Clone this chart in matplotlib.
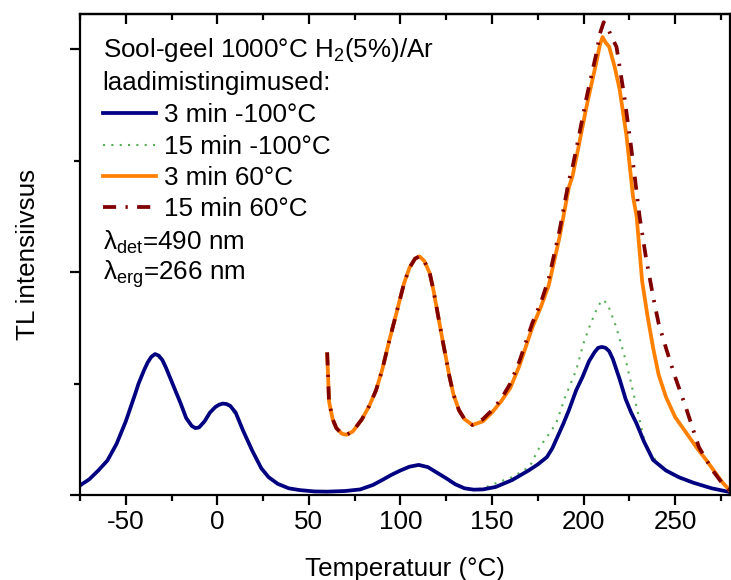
import matplotlib
matplotlib.use("Agg")
import matplotlib.pyplot as plt
from matplotlib.ticker import MultipleLocator

plt.rcParams['font.family'] = ['Liberation Sans', 'DejaVu Sans']
plt.rcParams['mathtext.fontset'] = 'custom'
plt.rcParams['mathtext.rm'] = 'Liberation Sans'
plt.rcParams['mathtext.it'] = 'Liberation Sans:italic'
plt.rcParams['mathtext.bf'] = 'Liberation Sans:bold'
plt.rcParams['axes.unicode_minus'] = False

# ---- data ----
blue_x = [-75, -70, -65, -60, -55, -50, -45, -43, -40, -38, -36, -34, -32, -30, -28, -25, -22, -20, -17, -14, -12, -10, -7, -4, -1,
          1, 3, 5, 7, 10, 14, 19, 24, 28, 33, 39, 45, 53, 60, 70, 78, 85, 90, 95, 100, 105, 110, 115, 120, 125,
          130, 135, 140, 145, 152, 161, 170, 175, 180, 183, 186, 189, 192, 196, 199.5, 203, 206, 208, 210, 212, 214, 216,
          219.7, 223, 226, 229, 233, 238, 245, 252, 260, 270, 280]
blue_y = [0.043, 0.07, 0.11, 0.155, 0.23, 0.33, 0.45, 0.50, 0.56, 0.595, 0.62, 0.632, 0.625, 0.605, 0.57, 0.51, 0.45, 0.41, 0.345, 0.31, 0.30, 0.303, 0.33, 0.37, 0.395,
          0.405, 0.41, 0.408, 0.40, 0.37, 0.29, 0.20, 0.12, 0.08, 0.05, 0.03, 0.022, 0.016, 0.015, 0.018, 0.025, 0.045, 0.067, 0.09, 0.11, 0.127, 0.135, 0.125, 0.10, 0.075,
          0.048, 0.03, 0.024, 0.025, 0.036, 0.067, 0.11, 0.137, 0.17, 0.21, 0.265, 0.32, 0.38, 0.47, 0.53, 0.60, 0.64, 0.66, 0.664, 0.66, 0.645, 0.61,
          0.52, 0.43, 0.37, 0.32, 0.24, 0.157, 0.11, 0.08, 0.055, 0.03, 0.013]

green_x = [-75, -70, -65, -60, -55, -50, -45, -40, -37, -34, -31, -28, -25, -20, -17, -14, -12, -9, -5, -1,
           3, 6, 10, 14, 19, 24, 28, 33, 39, 45, 53, 60, 70, 78, 85, 90, 95, 100, 105, 110, 115, 120, 125,
           130, 135, 140, 145, 152.5, 161, 170.5, 176, 180, 185, 190, 196, 200, 203, 207, 210, 213, 218,
           223.5, 229, 234, 240, 245, 252, 259.6, 270, 280]
green_y = [0.043, 0.07, 0.11, 0.155, 0.23, 0.33, 0.45, 0.56, 0.61, 0.63, 0.61, 0.57, 0.51, 0.41, 0.345, 0.31, 0.30, 0.31, 0.36, 0.40,
           0.41, 0.40, 0.36, 0.29, 0.20, 0.12, 0.08, 0.05, 0.03, 0.022, 0.016, 0.015, 0.018, 0.025, 0.045, 0.067, 0.09, 0.11, 0.127, 0.135, 0.125, 0.10, 0.075,
           0.048, 0.03, 0.024, 0.03, 0.054, 0.08, 0.126, 0.215, 0.26, 0.32, 0.44, 0.56, 0.68, 0.75, 0.83, 0.875, 0.86, 0.75,
           0.59, 0.395, 0.215, 0.15, 0.11, 0.075, 0.054, 0.03, 0.013]

orange_x = [60, 60.5, 61, 63, 65, 68, 70.5, 74, 79, 83, 86.7, 90, 94, 97, 99.5, 102, 105, 108, 110.4, 113, 116,
            118, 120, 123, 125, 126.8, 129, 132, 135, 139.3, 145, 150, 155, 160, 165, 172, 177, 181, 187, 192,
            194, 197, 201.6, 204, 207, 209, 210.4, 212, 214, 217, 219.7, 223.5, 227, 229, 232, 235, 238, 241, 245,
            250, 256, 262, 267, 272, 276, 280]
orange_y = [0.63, 0.53, 0.42, 0.34, 0.30, 0.275, 0.27, 0.285, 0.34, 0.40, 0.47, 0.56, 0.695, 0.79, 0.87, 0.95, 1.02, 1.06, 1.07, 1.05, 0.995,
            0.92, 0.83, 0.695, 0.61, 0.53, 0.45, 0.38, 0.34, 0.314, 0.33, 0.37, 0.42, 0.48, 0.58, 0.75, 0.85, 0.94, 1.16, 1.38,
            1.43, 1.55, 1.74, 1.83, 1.94, 2.02, 2.054, 2.03, 2.01, 1.92, 1.82, 1.61, 1.34, 1.25, 0.96, 0.80, 0.66, 0.54, 0.44,
            0.35, 0.28, 0.21, 0.157, 0.10, 0.055, 0.02]

darkred_x = [60, 60.5, 61, 63, 65, 68, 70.5, 74, 79, 83, 86.7, 90, 94, 97, 99.5, 102, 105, 108, 110.4, 113, 116,
             118, 120, 123, 125, 126.8, 129, 132, 135, 139.3, 145, 150, 155, 160, 165, 172, 177, 181, 187, 192,
             194, 197, 201.6, 204, 207, 209, 211, 213, 215, 218, 222.4, 226, 230.6, 234, 238, 241, 245, 250, 256,
             263, 270.5, 276, 280]
darkred_y = [0.64, 0.53, 0.42, 0.34, 0.30, 0.275, 0.27, 0.285, 0.34, 0.40, 0.47, 0.56, 0.695, 0.79, 0.87, 0.95, 1.02, 1.06, 1.07, 1.05, 0.995,
             0.92, 0.83, 0.695, 0.61, 0.53, 0.45, 0.38, 0.34, 0.314, 0.34, 0.38, 0.43, 0.50, 0.60, 0.77, 0.87, 0.97, 1.19, 1.41,
             1.47, 1.59, 1.78, 1.87, 1.98, 2.07, 2.12, 2.10, 2.06, 2.01, 1.78, 1.56, 1.25, 1.07, 0.89, 0.77, 0.66, 0.53, 0.39,
             0.215, 0.11, 0.05, 0.02]

labels = ["3 min -100°C", "15 min -100°C", "3 min 60°C", "15 min 60°C"]
title_lines = ["Sool-geel 1000°C H$_2$(5%)/Ar", "laadimistingimused:"]
lambda_lines = ["λ$_{\\mathrm{det}}$=490 nm", "λ$_{\\mathrm{erg}}$=266 nm"]

FS = 18.7

fig = plt.figure(figsize=(7.31, 5.80), dpi=100)
ax = fig.add_axes([80/731, 85/580, 650/731, 481/580])

l2, = ax.plot(green_x, green_y, color='#55b055', lw=1.5, ls=(0, (1, 3)), label=labels[1])
l1, = ax.plot(blue_x, blue_y, color='#000080', lw=2.7, label=labels[0])
l3, = ax.plot(orange_x, orange_y, color='#ff8000', lw=2.7, label=labels[2])
l4, = ax.plot(darkred_x, darkred_y, color='#800000', lw=2.7, ls=(0, (3.5, 2.5, 0.6, 2.5)), label=labels[3])

ax.set_xlim(-75, 280)
ax.set_ylim(0, 2.157)
ax.xaxis.set_major_locator(MultipleLocator(50))
ax.xaxis.set_minor_locator(MultipleLocator(25))
ax.yaxis.set_major_locator(MultipleLocator(1))
ax.yaxis.set_minor_locator(MultipleLocator(0.5))
ax.tick_params(axis='both', which='major', length=7, width=1.6, labelsize=FS)
ax.tick_params(axis='both', which='minor', length=4, width=1.6)
ax.tick_params(axis='x', which='both', direction='out', bottom=True, top=False)
ax.tick_params(axis='y', which='both', direction='out', left=True, right=False, labelleft=False)
for s in ax.spines.values():
    s.set_linewidth(1.6)

# top axis ticks (inward)
secx = ax.secondary_xaxis('top')
secx.xaxis.set_major_locator(MultipleLocator(50))
secx.xaxis.set_minor_locator(MultipleLocator(25))
secx.tick_params(axis='x', which='major', direction='in', length=7, width=1.6, labeltop=False)
secx.tick_params(axis='x', which='minor', direction='in', length=4, width=1.6)
secx.spines['top'].set_linewidth(1.6)

ax.set_xlabel("Temperatuur (°C)", fontsize=FS, labelpad=17)
ax.set_ylabel("TL intensiivsus", fontsize=FS, labelpad=22)

# header text
ax.text(0.035, 0.925, title_lines[0], transform=ax.transAxes, fontsize=FS, va='center', ha='left')
ax.text(0.035, 0.856, title_lines[1], transform=ax.transAxes, fontsize=FS, va='center', ha='left')

leg = ax.legend(handles=[l1, l2, l3, l4], loc='upper left', bbox_to_anchor=(0.035, 0.814),
                frameon=False, fontsize=FS, handlelength=2.05, handletextpad=0.3,
                labelspacing=0.28, borderaxespad=0, borderpad=0)

ax.text(0.035, 0.526, lambda_lines[0], transform=ax.transAxes, fontsize=FS, va='center', ha='left')
ax.text(0.035, 0.459, lambda_lines[1], transform=ax.transAxes, fontsize=FS, va='center', ha='left')

fig.savefig("out.png", dpi=100)
